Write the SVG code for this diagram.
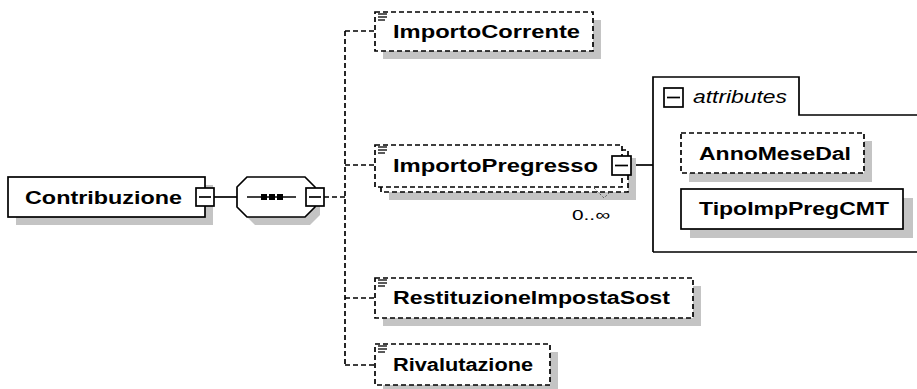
<svg xmlns="http://www.w3.org/2000/svg" width="917" height="389" viewBox="0 0 917 389">
<style>
.sh{fill:#c4c4c4;stroke:none}
.box{fill:#fff;stroke:#000;stroke-width:1.7}
.dbox{fill:#fff;stroke:#000;stroke-width:1.7;stroke-dasharray:5 3}
.lbl{font-family:"Liberation Sans",Arial,sans-serif;font-weight:bold;font-size:18px;fill:#000}
.it{font-family:"Liberation Sans",Arial,sans-serif;font-style:italic;font-size:18px;fill:#000}
.occ{font-family:"Liberation Sans",Arial,sans-serif;font-size:15px;fill:#000}
.ln{stroke:#000;stroke-width:1.7;fill:none}
.dl{stroke:#000;stroke-width:1.7;fill:none;stroke-dasharray:5 3}
.ic{stroke:#000;stroke-width:1.3}
</style>
<defs>
<g id="icon"><line class="ic" x1="0" y1="0" x2="9" y2="0"/><line class="ic" x1="0" y1="3" x2="9" y2="3"/><line class="ic" x1="0" y1="6" x2="7" y2="6"/></g>
</defs>
<g id="connectors">
<line class="ln" x1="214" y1="197" x2="237" y2="197"/>
<line class="dl" x1="324" y1="197" x2="345" y2="197"/>
<line class="dl" x1="345" y1="31" x2="345" y2="365"/>
<line class="dl" x1="345" y1="31" x2="375" y2="31"/>
<line class="dl" x1="345" y1="165" x2="375" y2="165"/>
<line class="dl" x1="345" y1="298" x2="375" y2="298"/>
<line class="dl" x1="345" y1="365" x2="375" y2="365"/>
<line class="ln" x1="631" y1="165" x2="653" y2="165"/>
</g>
<g id="Contribuzione">
<rect class="sh" x="16" y="185" width="197" height="40"/>
<rect class="box" x="8" y="177" width="197" height="40"/>
<text class="lbl" x="25" y="204" textLength="157" lengthAdjust="spacingAndGlyphs">Contribuzione</text>
<rect class="box" x="196" y="188" width="18" height="18"/>
<line class="ln" x1="199" y1="197" x2="211" y2="197"/>
</g>
<g id="sequence">
<polygon class="sh" points="255,185 310,185 320,195 320,215 310,225 255,225 245,215 245,195"/>
<polygon class="box" points="247,177 305,177 315,187 315,207 305,217 247,217 237,207 237,187"/>
<line class="ln" x1="247" y1="197" x2="296" y2="197"/>
<rect x="261" y="194" width="6" height="6" fill="#000"/>
<rect x="269" y="194" width="6" height="6" fill="#000"/>
<rect x="277" y="194" width="6" height="6" fill="#000"/>
<rect class="box" x="306" y="188" width="18" height="18"/>
<line class="ln" x1="309" y1="197" x2="321" y2="197"/>
</g>
<g id="ImportoCorrente">
<rect class="sh" x="383" y="20" width="218" height="39"/>
<rect class="dbox" x="375" y="12" width="218" height="39"/>
<use href="#icon" x="378" y="14"/>
<text class="lbl" x="393" y="38" textLength="187" lengthAdjust="spacingAndGlyphs">ImportoCorrente</text>
</g>
<g id="ImportoPregresso">
<rect class="sh" x="389" y="158" width="247" height="42"/>
<rect class="dbox" x="381" y="150" width="247" height="42"/>
<rect class="dbox" x="375" y="145" width="247" height="42"/>
<use href="#icon" x="378" y="147"/>
<text class="lbl" x="393" y="172" textLength="205" lengthAdjust="spacingAndGlyphs">ImportoPregresso</text>
<rect class="box" x="612" y="156" width="19" height="19"/>
<line class="ln" x1="615" y1="165.5" x2="628" y2="165.5"/>
<polyline points="594,188 604,198 610,192" fill="none" stroke="#555" stroke-width="1" stroke-dasharray="2 2"/>
<text class="occ" x="572" y="220" textLength="38" lengthAdjust="spacingAndGlyphs">0..∞</text>
</g>
<g id="attributes">
<path class="ln" d="M653,252 V77 H799 V115 H925 M653,252 H925"/>
<rect class="box" x="664" y="88" width="19" height="19"/>
<line class="ln" x1="667" y1="97.5" x2="680" y2="97.5"/>
<text class="it" x="693" y="103" textLength="94" lengthAdjust="spacingAndGlyphs">attributes</text>
</g>
<g id="AnnoMeseDal">
<rect class="sh" x="689" y="141" width="183" height="41"/>
<rect class="dbox" x="681" y="133" width="183" height="40"/>
<text class="lbl" x="699" y="160" textLength="152" lengthAdjust="spacingAndGlyphs">AnnoMeseDal</text>
</g>
<g id="TipoImpPregCMT">
<rect class="sh" x="690" y="198" width="223" height="40"/>
<rect class="box" x="681" y="189" width="222" height="40"/>
<text class="lbl" x="699" y="215" textLength="190" lengthAdjust="spacingAndGlyphs">TipoImpPregCMT</text>
</g>
<g id="RestituzioneImpostaSost">
<rect class="sh" x="383" y="286" width="318" height="40"/>
<rect class="dbox" x="375" y="278" width="318" height="40"/>
<use href="#icon" x="378" y="280"/>
<text class="lbl" x="393" y="304" textLength="277" lengthAdjust="spacingAndGlyphs">RestituzioneImpostaSost</text>
</g>
<g id="Rivalutazione">
<rect class="sh" x="383" y="352" width="175" height="41"/>
<rect class="dbox" x="375" y="344" width="175" height="41"/>
<use href="#icon" x="378" y="346"/>
<text class="lbl" x="393" y="371" textLength="140" lengthAdjust="spacingAndGlyphs">Rivalutazione</text>
</g>
</svg>
